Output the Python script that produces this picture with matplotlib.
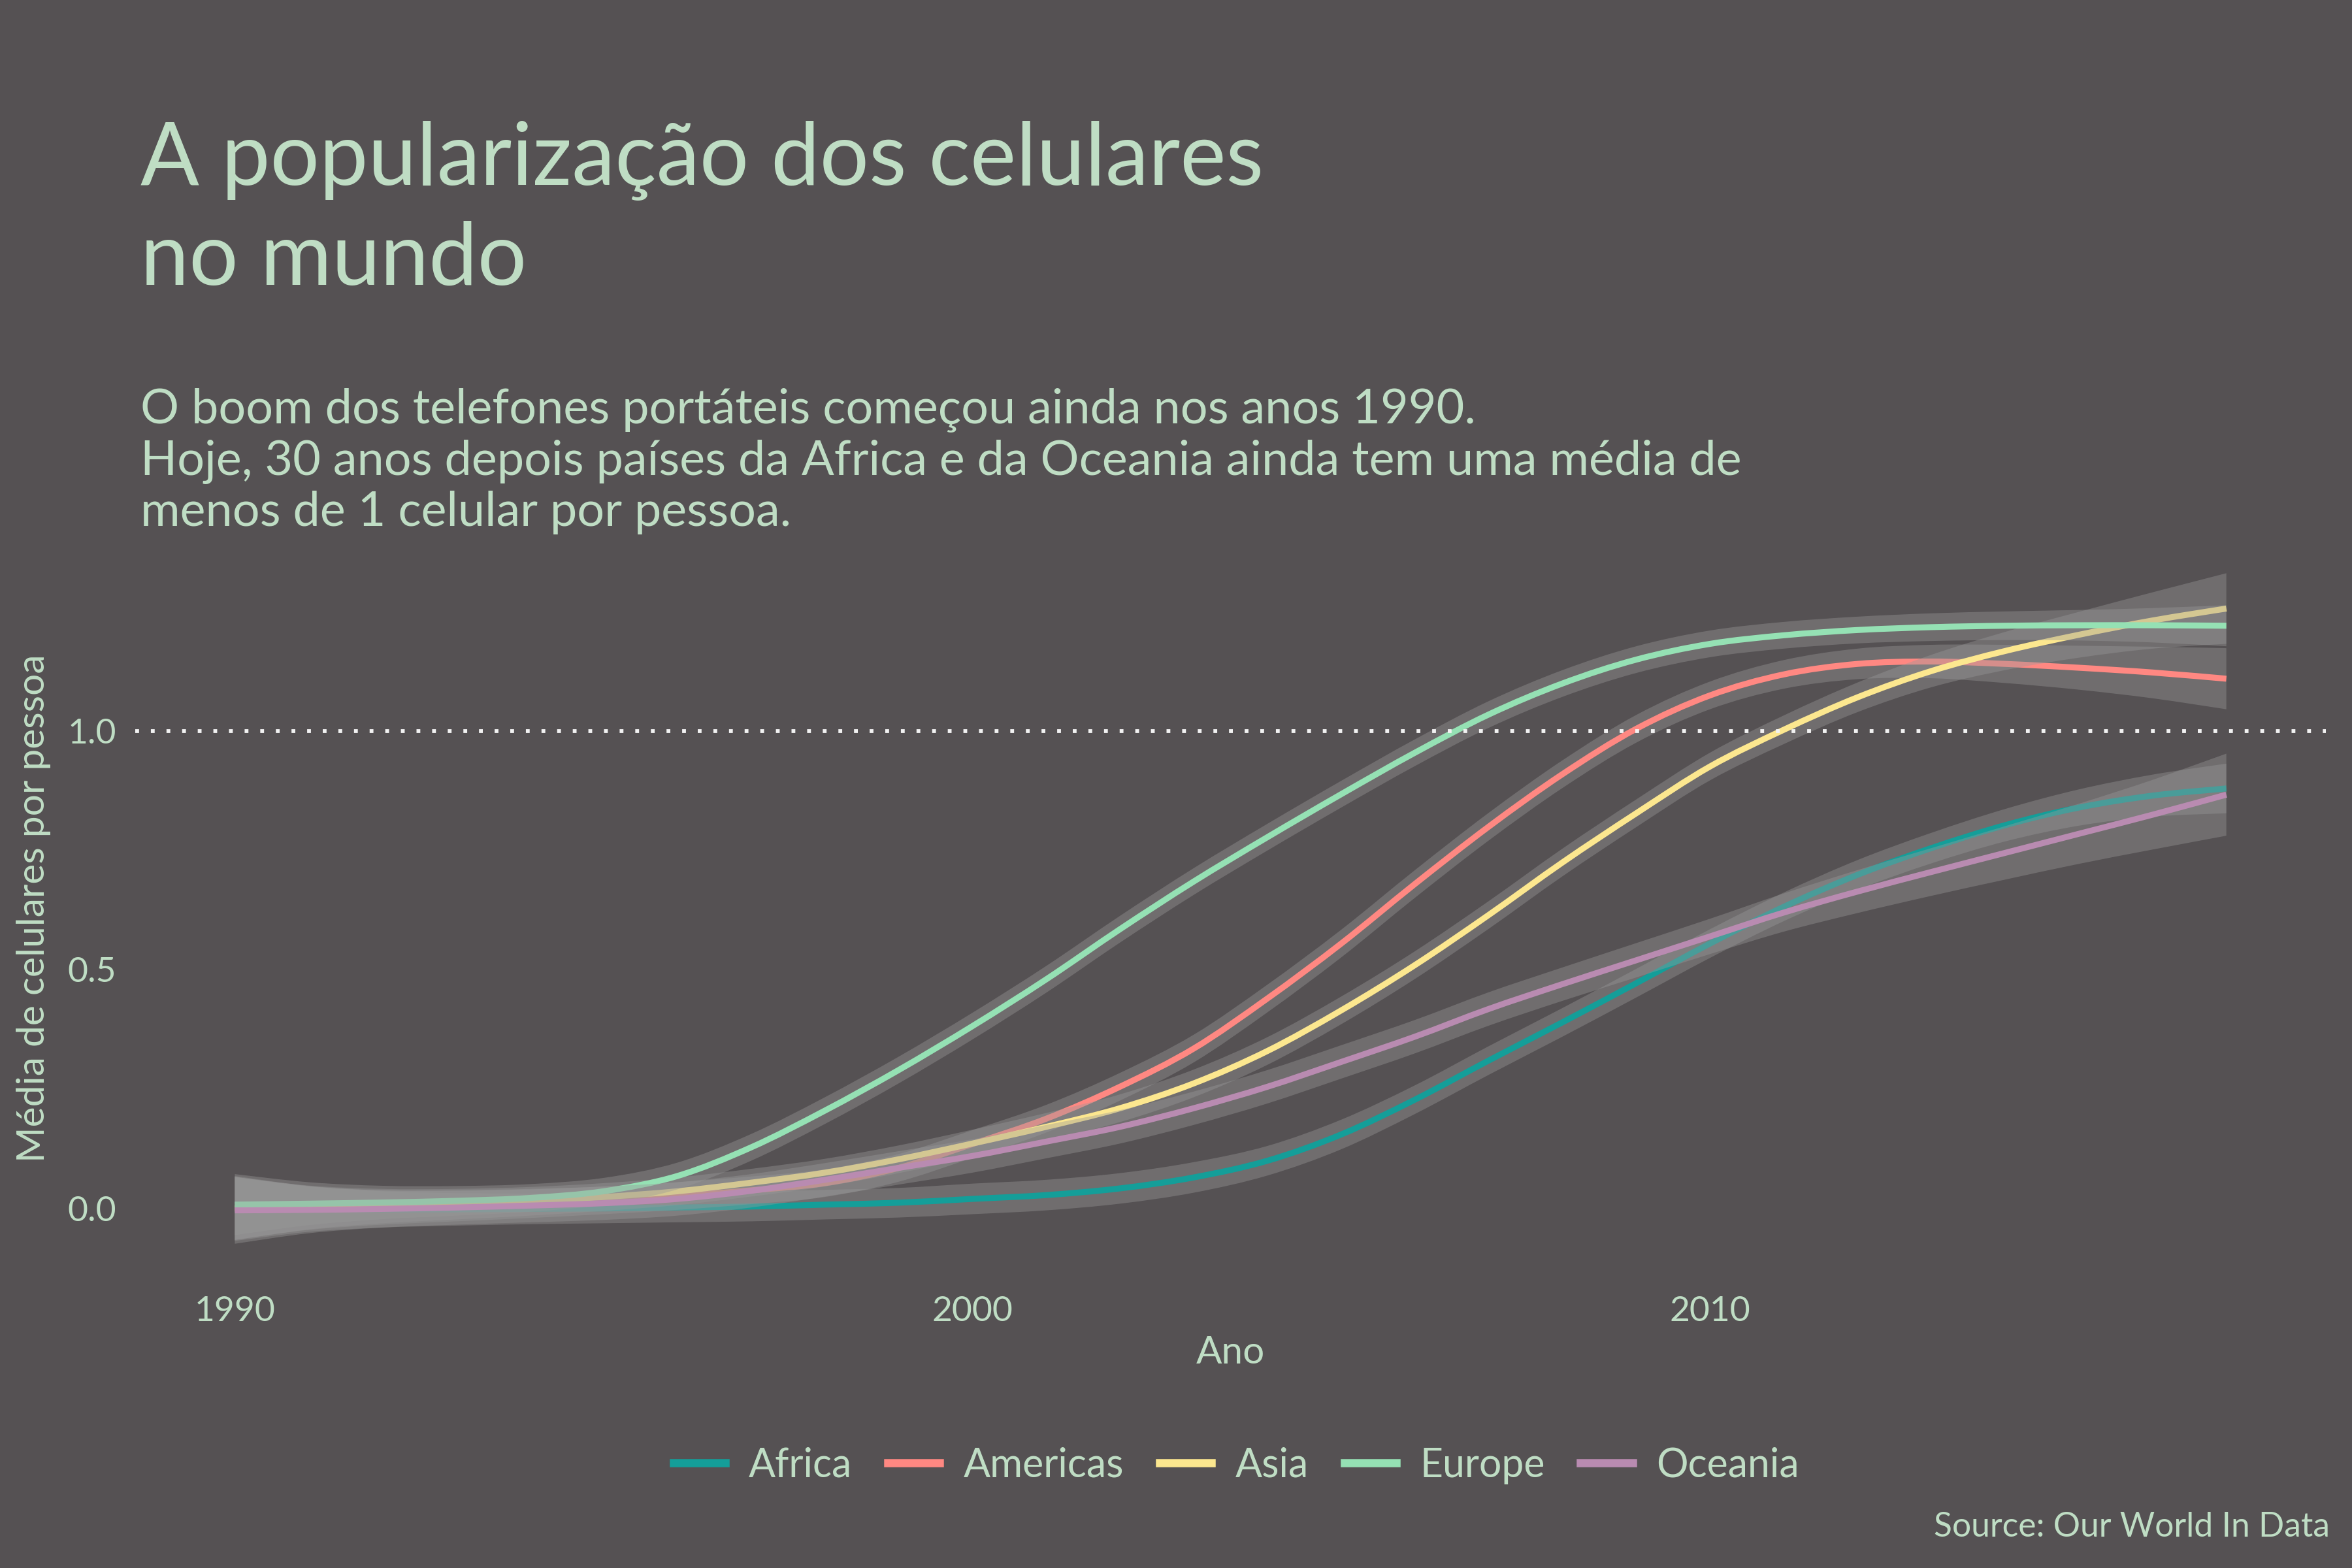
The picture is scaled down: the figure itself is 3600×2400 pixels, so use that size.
import numpy as np
import matplotlib.pyplot as plt
from matplotlib.path import Path
from matplotlib.patches import PathPatch
from matplotlib.lines import Line2D

plt.rcParams['font.family'] = ['Lato', 'DejaVu Sans']

bg = '#555153'
txt = '#BFDDC4'

years = list(range(1990, 2018))
regions = ['Africa', 'Americas', 'Asia', 'Europe', 'Oceania']
colors = ['#149E99', '#FF8882', '#FCE78F', '#95E1B4', '#B98BB1']

# smoothed mean of phones per person
africa = [0.000, -0.001, -0.002, -0.002, -0.001, 0.000, 0.002, 0.004, 0.008, 0.012,
          0.020, 0.028, 0.042, 0.065, 0.100, 0.155, 0.228, 0.310, 0.390, 0.472,
          0.555, 0.632, 0.699, 0.755, 0.803, 0.840, 0.865, 0.880]
americas = [0.000, 0.001, 0.002, 0.005, 0.010, 0.017, 0.026, 0.038, 0.053, 0.085,
            0.135, 0.188, 0.255, 0.335, 0.440, 0.555, 0.680, 0.800, 0.910, 1.005,
            1.075, 1.119, 1.141, 1.146, 1.141, 1.133, 1.123, 1.110]
asia = [0.000, 0.002, 0.005, 0.009, 0.015, 0.024, 0.036, 0.054, 0.075, 0.103,
        0.136, 0.171, 0.210, 0.262, 0.330, 0.415, 0.510, 0.615, 0.725, 0.828,
        0.926, 1.003, 1.071, 1.126, 1.168, 1.202, 1.232, 1.257]
europe = [0.008, 0.010, 0.0125, 0.016, 0.022, 0.036, 0.068, 0.128, 0.205, 0.290,
          0.382, 0.480, 0.585, 0.685, 0.778, 0.868, 0.955, 1.035, 1.100, 1.150,
          1.183, 1.201, 1.212, 1.218, 1.221, 1.222, 1.222, 1.221]
oceania = [-0.004, -0.003, -0.001, 0.002, 0.006, 0.011, 0.020, 0.037, 0.060, 0.085,
           0.110, 0.140, 0.171, 0.210, 0.255, 0.307, 0.360, 0.418, 0.470, 0.520,
           0.570, 0.620, 0.664, 0.705, 0.745, 0.785, 0.825, 0.867]

# half width of the confidence band
hw_africa = [0.068, 0.048, 0.038, 0.034, 0.032, 0.031, 0.031, 0.031, 0.031, 0.031,
             0.032, 0.032, 0.032, 0.032, 0.031, 0.031, 0.030, 0.030, 0.030, 0.030,
             0.030, 0.030, 0.031, 0.032, 0.034, 0.038, 0.044, 0.052]
hw_americas = [0.066, 0.046, 0.036, 0.032, 0.030, 0.029, 0.029, 0.029, 0.029, 0.029,
               0.029, 0.029, 0.029, 0.029, 0.029, 0.029, 0.029, 0.029, 0.029, 0.029,
               0.029, 0.030, 0.032, 0.035, 0.040, 0.046, 0.054, 0.064]
hw_asia = [0.066, 0.046, 0.036, 0.032, 0.030, 0.029, 0.029, 0.029, 0.029, 0.029,
           0.029, 0.029, 0.029, 0.029, 0.029, 0.029, 0.029, 0.029, 0.029, 0.029,
           0.029, 0.030, 0.031, 0.034, 0.040, 0.048, 0.059, 0.074]
hw_europe = [0.064, 0.045, 0.035, 0.031, 0.029, 0.028, 0.028, 0.028, 0.028, 0.028,
             0.028, 0.028, 0.028, 0.028, 0.028, 0.028, 0.028, 0.028, 0.028, 0.028,
             0.028, 0.028, 0.028, 0.029, 0.030, 0.032, 0.036, 0.043]
hw_oceania = [0.070, 0.049, 0.039, 0.036, 0.035, 0.035, 0.035, 0.035, 0.035, 0.035,
              0.035, 0.035, 0.035, 0.035, 0.035, 0.035, 0.035, 0.035, 0.035, 0.036,
              0.037, 0.040, 0.045, 0.050, 0.056, 0.063, 0.073, 0.086]

series = [africa, americas, asia, europe, oceania]
bands = [hw_africa, hw_americas, hw_asia, hw_europe, hw_oceania]


def bezier(x, y):
    # catmull-rom through the points, as cubic bezier segments
    p = np.column_stack([x, y])
    verts, codes = [p[0]], [Path.MOVETO]
    n = len(p)
    for i in range(n - 1):
        p0, p1, p2, p3 = p[max(i - 1, 0)], p[i], p[i + 1], p[min(i + 2, n - 1)]
        verts += [p1 + (p2 - p0) / 6, p2 - (p3 - p1) / 6, p2]
        codes += [Path.CURVE4] * 3
    return verts, codes


fig = plt.figure(figsize=(12, 8), dpi=300, facecolor=bg)
ax = fig.add_axes([0.0575, 0.1854, 0.9314, 0.4704])
ax.set_facecolor(bg)

x = np.array(years, dtype=float)
for i in range(len(regions)):
    y = np.array(series[i])
    hw = np.array(bands[i])
    v1, c1 = bezier(x, y + hw)
    v2, c2 = bezier(x[::-1], (y - hw)[::-1])
    c2[0] = Path.LINETO
    verts = v1 + v2 + [v1[0]]
    codes = c1 + c2 + [Path.CLOSEPOLY]
    ax.add_patch(PathPatch(Path(verts, codes), facecolor='#999999', alpha=0.4,
                           edgecolor='none', zorder=2 + 2 * i))
    vl, cl = bezier(x, y)
    ax.add_patch(PathPatch(Path(vl, cl), facecolor='none', edgecolor=colors[i],
                           lw=2.2, capstyle='butt', zorder=3 + 2 * i))

lo = min(min(np.array(s) - np.array(b)) for s, b in zip(series, bands))
hi = max(max(np.array(s) + np.array(b)) for s, b in zip(series, bands))
ax.set_ylim(lo - 0.05 * (hi - lo), hi + 0.05 * (hi - lo))
ax.set_xlim(years[0] - 0.05 * (years[-1] - years[0]), years[-1] + 0.05 * (years[-1] - years[0]))

ax.axhline(1.0, color='#f2f2f2', lw=1.4, ls=(0, (1, 3.1)), dash_capstyle='butt', zorder=20)

ax.set_xticks([1990, 2000, 2010])
ax.set_yticks([0.0, 0.5, 1.0])
ax.set_yticklabels(['0.0', '0.5', '1.0'])
ax.tick_params(length=0, colors=txt, labelsize=12.8)
ax.tick_params(axis='x', pad=7)
ax.tick_params(axis='y', pad=7)
for s in ax.spines.values():
    s.set_visible(False)
ax.set_xlabel('Ano', color=txt, fontsize=14, labelpad=3)
ax.set_ylabel('Média de celulares por pessoa', color=txt, fontsize=14.1, labelpad=6)

fig.text(0.0597, 1 - 436 / 2400, 'A popularização dos celulares\nno mundo',
         color=txt, fontsize=31.9, va='baseline', linespacing=1.32)
fig.text(0.0597, 1 - 805 / 2400,
         'O boom dos telefones portáteis começou ainda nos anos 1990.\n'
         'Hoje, 30 anos depois países da Africa e da Oceania ainda tem uma média de\n'
         'menos de 1 celular por pessoa.',
         color=txt, fontsize=17.7, va='baseline', linespacing=1.19)

handles = [Line2D([], [], color=c, lw=3) for c in colors]
fig.legend(handles, regions, loc='center', bbox_to_anchor=(0.5256, 0.0654), ncol=5,
           frameon=False, fontsize=14.6, labelcolor=txt, handlelength=1.3,
           handletextpad=0.6, columnspacing=0.9)

fig.text(0.9906, 1 - 2338 / 2400, 'Source: Our World In Data', color=txt, fontsize=12.4,
         ha='right', va='center')

plt.savefig('out.png', dpi=300, facecolor=bg)
